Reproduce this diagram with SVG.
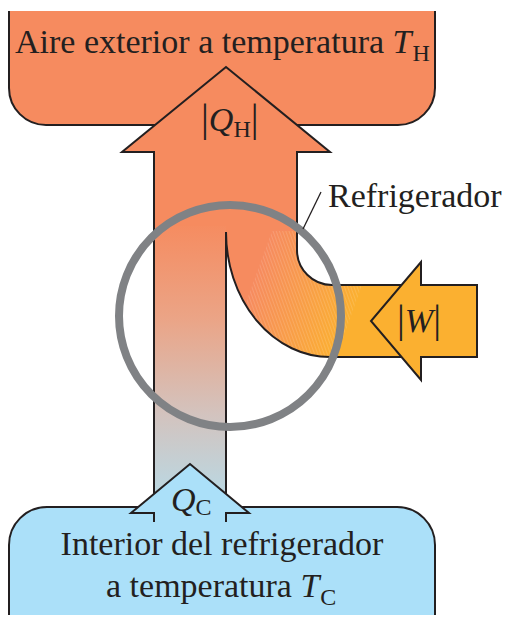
<svg xmlns="http://www.w3.org/2000/svg" width="532" height="629" viewBox="0 0 532 629">
<defs>
<linearGradient id="shaftGrad" gradientUnits="userSpaceOnUse" x1="0" y1="222" x2="0" y2="496">
<stop offset="0" stop-color="#F68B5F"/>
<stop offset="0.35" stop-color="#EBA486"/>
<stop offset="0.7" stop-color="#D3C3BE"/>
<stop offset="1" stop-color="#BAD8E3"/>
</linearGradient>
<linearGradient id="bandGrad" gradientUnits="userSpaceOnUse" x1="262" y1="262" x2="358" y2="298">
<stop offset="0" stop-color="#F68B5F"/>
<stop offset="1" stop-color="#FBB030"/>
</linearGradient>
<pattern id="hatch" patternUnits="userSpaceOnUse" width="3" height="3" patternTransform="rotate(-20)">
<line x1="0" y1="0" x2="0" y2="3" stroke="#FFFFFF" stroke-width="0.8" stroke-opacity="0.35"/>
</pattern>
<clipPath id="bandClip">
<path d="M226,231 L297,231 L297,250 A35,35 0 0 0 332,285 L425,285 L425,357 L330,357 A104,125 0 0 1 226,232 Z"/>
</clipPath>
</defs>
<style>
.ol{fill:none;stroke:#231F20;stroke-width:2;stroke-linejoin:miter}
.t{font-family:"Liberation Serif","Times New Roman",serif;font-size:34px;fill:#231F20}
.i{font-style:italic}
.s{font-size:24px}
.b{font-size:39px}
</style>

<g id="box-hot">
<path d="M9,11 L9,88 A37,37 0 0 0 46,125 L398,125 A37,37 0 0 0 435,88 L435,11 Z" fill="#F68B5F"/>
<path class="ol" d="M9,11 L9,88 A37,37 0 0 0 46,125 L398,125 A37,37 0 0 0 435,88 L435,11"/>
</g>

<g id="box-cold">
<path d="M9,615 L9,545 A38,38 0 0 1 47,507 L397,507 A38,38 0 0 1 435,545 L435,615 Z" fill="#ABE0F9"/>
<path class="ol" d="M9,615 L9,545 A38,38 0 0 1 47,507 L397,507 A38,38 0 0 1 435,545 L435,615"/>
</g>

<g id="connectors">
<path d="M226,67 L330,152 L297,152 L297,234 L154,234 L154,152 L122,152 Z" fill="#F68B5F"/>
<rect x="154" y="226" width="72" height="272" fill="url(#shaftGrad)"/>
<path d="M371,321 L421,262 L421,285 L477,285 L477,357 L421,357 L421,380 Z" fill="#FBB030"/>
<path d="M226,231 L297,231 L297,250 A35,35 0 0 0 332,285 L425,285 L425,357 L330,357 A104,125 0 0 1 226,232 Z" fill="url(#bandGrad)"/>
<path d="M272,231 L300,231 L362,285 L336,358 L252,358 L244,308 Z" fill="url(#hatch)" clip-path="url(#bandClip)"/>
<path d="M190,464 L249,513 L226,513 L226,522 L154,522 L154,513 L131,513 Z" fill="#ABE0F9"/>
<path class="ol" d="M154,494 L154,152 L122,152 L226,67 L330,152 L297,152 L297,250 A35,35 0 0 0 332,285 L401,285"/>
<path class="ol" d="M401,357 L330,357 A104,125 0 0 1 226,232 L226,494"/>
<path class="ol" d="M421,285 L477,285 L477,357 L421,357 L421,380 L371,321 L421,262 Z"/>
<path class="ol" d="M154,522 L154,513 L131,513 L190,464 L249,513 L226,513 L226,522"/>
</g>

<g id="refrigerator">
<circle cx="230" cy="316" r="111" fill="none" stroke="#808285" stroke-width="8"/>
<line x1="303" y1="229" x2="321" y2="192" stroke="#231F20" stroke-width="1.3"/>
<text class="t" x="328" y="207">Refrigerador</text>
</g>

<g id="labels">
<text class="t" x="15" y="53">Aire exterior a temperatura <tspan class="i">T</tspan><tspan class="s" dx="1" dy="8">H</tspan></text>
<text class="t" x="201" y="131"><tspan class="b">|</tspan><tspan class="i">Q</tspan><tspan class="s" dy="6">H</tspan><tspan class="b" dy="-6">|</tspan></text>
<text class="t" x="397" y="332"><tspan class="b">|</tspan><tspan class="i">W</tspan><tspan class="b">|</tspan></text>
<text class="t" x="171" y="511"><tspan class="i">Q</tspan><tspan class="s" dy="4">C</tspan></text>
<text class="t" x="222" y="555" text-anchor="middle">Interior del refrigerador</text>
<text class="t" x="106" y="597">a temperatura <tspan class="i">T</tspan><tspan class="s" dx="1" dy="8">C</tspan></text>
</g>
</svg>
